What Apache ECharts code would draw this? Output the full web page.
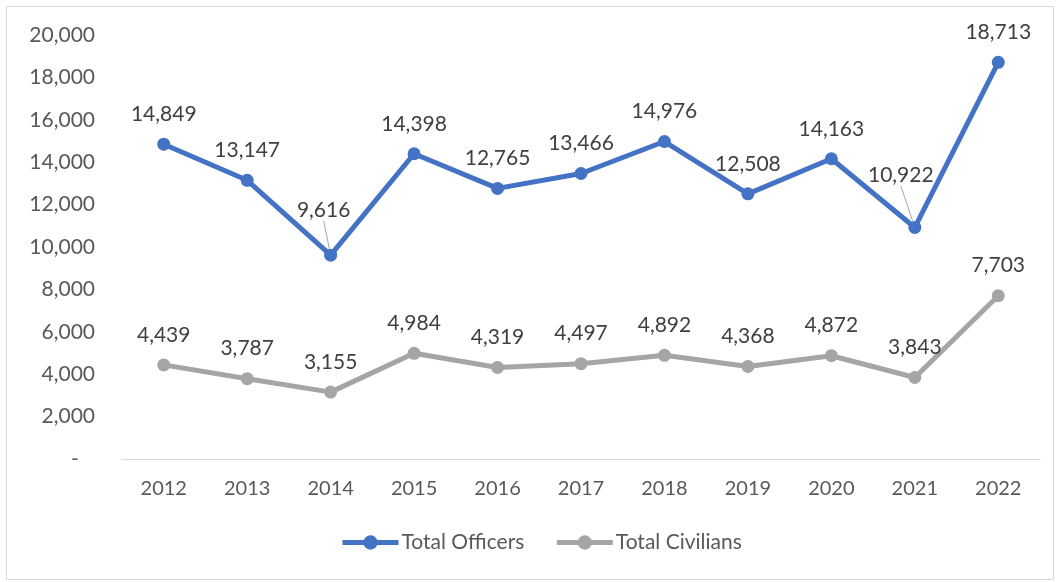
<!DOCTYPE html>
<html>
<head>
<meta charset="utf-8">
<script src="https://cdn.jsdelivr.net/npm/echarts@6/dist/echarts.min.js"></script>
<style>
  html, body { margin: 0; padding: 0; background: #fff; }
  #chart { width: 1060px; height: 582px; }
</style>
</head>
<body>
<div id="chart"></div>
<script>
// Yearly totals
const years = ['2012', '2013', '2014', '2015', '2016', '2017', '2018', '2019', '2020', '2021', '2022'];
const officers = [14849, 13147, 9616, 14398, 12765, 13466, 14976, 12508, 14163, 10922, 18713];
const civilians = [4439, 3787, 3155, 4984, 4319, 4497, 4892, 4368, 4872, 3843, 7703];
const seriesNames = ['Total Officers', 'Total Civilians'];

// Labels that sit further from their point, with a leader line
const shiftedLabels = { 2: { dx: -7, dy: -15 }, 9: { dx: -14, dy: -22 } };

const FONT = 'Lato, "Open Sans", sans-serif';
const fmt = v => v.toLocaleString('en-US');

const chart = echarts.init(document.getElementById('chart'), null, { renderer: 'canvas' });

function lineSeries(name, values, color, withShifts) {
  return {
    name: name,
    type: 'line',
    data: values.map((v, i) => {
      const item = { value: v };
      if (withShifts && shiftedLabels[i]) {
        item.labelLine = { show: true, lineStyle: { color: '#a6a6a6', width: 1 } };
      }
      return item;
    }),
    symbol: 'circle',
    symbolSize: 13,
    lineStyle: { color: color, width: 5 },
    itemStyle: { color: color },
    label: {
      show: true,
      position: 'top',
      distance: 13,
      color: '#404040',
      fontSize: 21,
      fontFamily: FONT,
      formatter: p => fmt(p.value)
    },
    labelLayout: withShifts ? function (params) {
      const s = shiftedLabels[params.dataIndex];
      return s ? { dx: s.dx, dy: s.dy } : {};
    } : undefined,
    emphasis: { disabled: true },
    animation: false
  };
}

chart.setOption({
  backgroundColor: '#ffffff',
  animation: false,
  graphic: [{
    type: 'rect',
    shape: { x: 6.5, y: 6.5, width: 1047, height: 573 },
    style: { fill: 'none', stroke: '#d9d9d9', lineWidth: 1 },
    silent: true
  }],
  grid: { left: 122, right: 20, top: 35, bottom: 123 },
  legend: {
    bottom: 24,
    left: 335,
    itemWidth: 56,
    itemHeight: 18,
    itemGap: 30,
    lineStyle: { width: 5 },
    textStyle: { color: '#595959', fontSize: 21, fontFamily: FONT, padding: [0, 0, 0, -2] },
    data: seriesNames
  },
  xAxis: {
    type: 'category',
    data: years,
    boundaryGap: true,
    axisLine: { show: true, lineStyle: { color: '#d9d9d9', width: 1 } },
    axisTick: { show: false },
    axisLabel: { color: '#595959', fontSize: 20, fontFamily: FONT, margin: 20 }
  },
  yAxis: {
    type: 'value',
    min: 0,
    max: 20000,
    interval: 2000,
    axisLine: { show: false },
    axisTick: { show: false },
    splitLine: { show: false },
    axisLabel: {
      color: '#595959',
      fontSize: 21,
      fontFamily: FONT,
      margin: 27,
      formatter: v => v === 0 ? '-   ' : fmt(v)
    }
  },
  series: [
    lineSeries(seriesNames[0], officers, '#4472c4', true),
    lineSeries(seriesNames[1], civilians, '#a5a5a5', false)
  ]
});
</script>
</body>
</html>
